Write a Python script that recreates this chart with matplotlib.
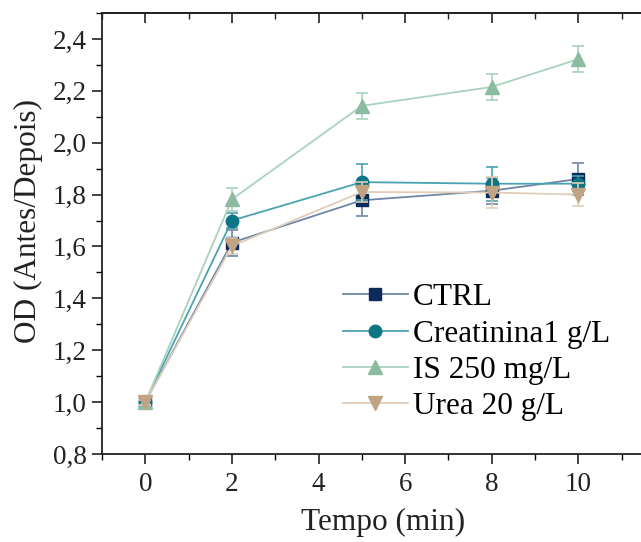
import numpy as np
import matplotlib.pyplot as plt
from matplotlib.ticker import MultipleLocator

plt.rcParams['font.family'] = ['Liberation Serif', 'DejaVu Serif']

# dados
tempo = [0, 2, 5, 8, 10]
ctrl = [1.00, 1.615, 1.778, 1.815, 1.860]
ctrl_err = [0.01, 0.05, 0.06, 0.05, 0.06]
creat = [1.00, 1.700, 1.848, 1.842, 1.842]
creat_err = [0.01, 0.03, 0.07, 0.065, 0.03]
is250 = [1.00, 1.782, 2.142, 2.215, 2.322]
is250_err = [0.01, 0.045, 0.05, 0.05, 0.05]
urea = [1.00, 1.602, 1.810, 1.808, 1.800]
urea_err = [0.01, 0.03, 0.04, 0.06, 0.045]

labels = ["CTRL", "Creatinina1 g/L", "IS 250 mg/L", "Urea 20 g/L"]
y_ticks = [0.8, 1.0, 1.2, 1.4, 1.6, 1.8, 2.0, 2.2, 2.4]
y_ticklabels = ["0,8", "1,0", "1,2", "1,4", "1,6", "1,8", "2,0", "2,2", "2,4"]
x_ticks = [0, 2, 4, 6, 8, 10]

series = [
    (ctrl, ctrl_err, 's', '#0c2a5a', '#6e86a8', 8),
    (creat, creat_err, 'o', '#0e7585', '#4aa3b0', 9),
    (is250, is250_err, '^', '#8cbca0', '#a9d2bd', 10),
    (urea, urea_err, 'v', '#bfa383', '#e0cdb9', 10),
]

fig = plt.figure(figsize=(6.41, 5.42), dpi=100)
ax = fig.add_axes([102 / 641, 88 / 542, 563 / 641, 441 / 542])

handles = []
for (vals, err, mk, mc, lc, ms), lab in zip(series, labels):
    ax.errorbar(tempo, vals, yerr=err, fmt='none', ecolor=lc, elinewidth=1.2,
                capsize=4, capthick=1.2)
    h, = ax.plot(tempo, vals, color=lc, lw=1.3, marker=mk, ms=ms,
                 markerfacecolor=mc, markeredgecolor=mc, label=lab)
    handles.append(h)

ax.set_xlim(-1, 12)
ax.set_ylim(0.8, 2.5)
ax.set_xticks(x_ticks)
ax.xaxis.set_minor_locator(MultipleLocator(1))
ax.set_yticks(y_ticks)
ax.set_yticklabels(y_ticklabels)
ax.yaxis.set_minor_locator(MultipleLocator(0.1))

ax.tick_params(axis='both', which='major', labelsize=19.5, length=7, width=1.2,
               direction='out', colors='#222222', labelcolor='#222222')
ax.tick_params(axis='both', which='minor', length=4, width=1.0, direction='out')
ax.tick_params(axis='x', which='both', top=False, pad=6)
ax.tick_params(axis='y', which='major', pad=4)
for sp in ax.spines.values():
    sp.set_linewidth(1.3)
    sp.set_color('#222222')

# ticks do topo apontando para dentro
sec = ax.secondary_xaxis('top')
sec.set_xticks(x_ticks)
sec.xaxis.set_minor_locator(MultipleLocator(1))
sec.tick_params(which='major', direction='in', length=7, width=1.2, labeltop=False,
                colors='#222222')
sec.tick_params(which='minor', direction='in', length=4, width=1.0, colors='#222222')
sec.spines['top'].set_linewidth(1.3)
sec.spines['top'].set_color('#222222')

ax.set_xlabel("Tempo (min)", fontsize=22.5, color='#222222', labelpad=8)
ax.set_ylabel("OD (Antes/Depois)", fontsize=22.5, color='#222222')
ax.yaxis.set_label_coords(-0.105, 0.528)

ax.legend(handles=handles, loc='upper left', bbox_to_anchor=(0.428, 0.387),
          frameon=False, fontsize=22.5, handlelength=2.08, handletextpad=0.16,
          labelspacing=0.235, borderpad=0, borderaxespad=0)

fig.savefig("out.png", dpi=100)
